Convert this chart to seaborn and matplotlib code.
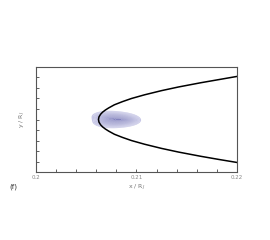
import numpy as np
import matplotlib
matplotlib.use("Agg")
import matplotlib.pyplot as plt
from matplotlib.colors import LinearSegmentedColormap
import seaborn as sns

# boundary curve
curve_y = [-0.83, -0.76, -0.70, -0.62, -0.55, -0.47, -0.40, -0.34, -0.28, -0.22, -0.18, -0.14, -0.10, -0.05,
           0.0, 0.05, 0.10, 0.14, 0.18, 0.22, 0.28, 0.34, 0.40, 0.47, 0.55, 0.62, 0.70, 0.76, 0.82]
curve_x = [0.22040, 0.21820, 0.21640, 0.21420, 0.21250, 0.21080, 0.20950, 0.20860, 0.20780, 0.20723, 0.20690,
           0.20663, 0.20643, 0.20627, 0.20622, 0.20627, 0.20643, 0.20663, 0.20690, 0.20723, 0.20780, 0.20860,
           0.20950, 0.21080, 0.21250, 0.21420, 0.21640, 0.21820, 0.22000]

# blob sample points
blob_x = [0.2066, 0.2067, 0.2068, 0.2069, 0.2071, 0.2073, 0.2074, 0.2076, 0.2078, 0.2079, 0.2081,
          0.2082, 0.2084, 0.2085, 0.2087, 0.2088, 0.2090, 0.2091, 0.2093]
blob_y = [0.05, -0.05, 0.085, -0.085, 0.0, 0.085, -0.085, 0.035, -0.035, 0.075, -0.075,
          0.0, 0.06, -0.06, 0.03, -0.03, 0.04, -0.04, 0.0]

x_ticks_major = [0.20, 0.21, 0.22]
x_tick_labels = ["0.2", "0.21", "0.22"]

sns.set_style("white")
fig = plt.figure(figsize=(2.7, 2.4), dpi=100)
ax = fig.add_axes([0.133, 0.283, 0.745, 0.438])

cmap = LinearSegmentedColormap.from_list("lav", ["#cacae8", "#9e9ed0", "#8282be"])
sns.kdeplot(x=blob_x, y=blob_y, fill=True, cmap=cmap, levels=30, thresh=0.1, bw_adjust=1.6,
            gridsize=200, antialiased=True, ax=ax)

sns.lineplot(x=curve_x, y=curve_y, sort=False, estimator=None, errorbar=None,
             color="black", lw=1.1, ax=ax)

ax.set_xlim(0.2, 0.22)
ax.set_ylim(-1, 1)
ax.set_xticks(x_ticks_major)
ax.set_xticklabels(x_tick_labels)
ax.set_xticks(np.arange(0.202, 0.22, 0.002), minor=True)
ax.set_yticks(np.arange(-0.8, 0.81, 0.2))
ax.set_yticklabels([])
ax.tick_params(axis="both", which="both", direction="in", length=2, width=0.6, color="#444444",
               labelsize=4, labelcolor="#888888", pad=2)
ax.tick_params(axis="x", which="both", bottom=True)
ax.tick_params(axis="y", which="both", left=True)
for s in ax.spines.values():
    s.set_color("#555555")
    s.set_linewidth(0.8)
ax.set_xlabel("x / R$_J$", fontsize=4.5, color="#777777", labelpad=2)
ax.set_ylabel("y / R$_J$", fontsize=4.5, color="#777777", labelpad=4)
ax.text(-0.13, -0.14, "(f)", transform=ax.transAxes, fontsize=5, color="#333333", va="center", ha="left")

fig.savefig("out.png", dpi=100)
